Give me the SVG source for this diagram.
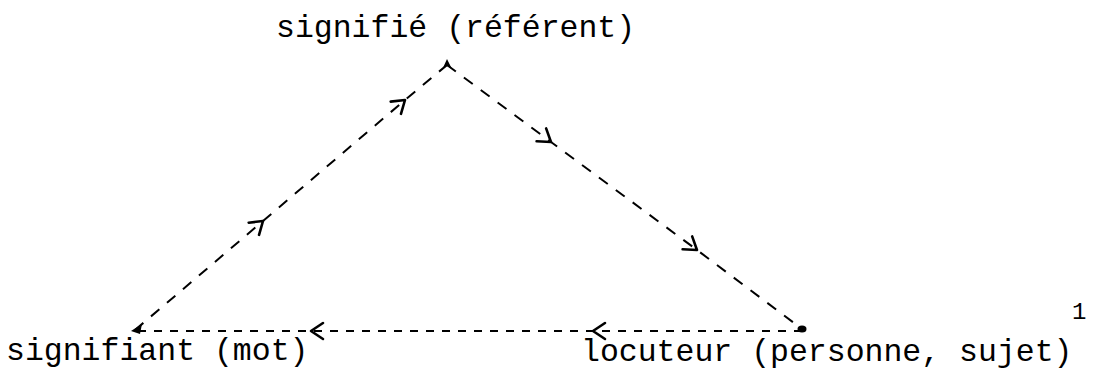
<svg xmlns="http://www.w3.org/2000/svg" width="1095" height="370" viewBox="0 0 1095 370">
<style>
  .lbl { font-family: "Liberation Mono", "Courier New", monospace; font-size: 31.5px; fill: #000; }
  .sup { font-size: 24px; }
  .edge { fill: none; stroke: #000; stroke-width: 2; stroke-dasharray: 11 10; marker-mid: url(#chev); }
  .edge.h { stroke-dasharray: 8 8; }
  .dot { fill: #000; }
</style>
<defs>
  <marker id="chev" markerUnits="userSpaceOnUse" orient="auto" markerWidth="30" markerHeight="30" viewBox="-15 -15 30 30" refX="0" refY="0" overflow="visible">
    <path d="M-12,-8 L0,0 L-12,8" fill="none" stroke="#000" stroke-width="2.6" stroke-linecap="round" stroke-linejoin="round"/>
  </marker>
</defs>
<rect width="1095" height="370" fill="#fff"/>
<g id="connectors">
  <polyline class="edge" points="135,330 263,221 405,100 447,65"/>
  <polyline class="edge" points="447,65 551,142 697,250 802,329"/>
  <polyline class="edge h" points="802,331 593,331 311,331 135,331"/>
</g>
<g id="node-signifie">
  <path class="dot" d="M447,59 L452,69 L447,66 L442,70 Z"/>
  <text class="lbl" x="276" y="37">signifié (référent)</text>
</g>
<g id="node-signifiant">
  <path class="dot" d="M131,331 L142,324 L140,334 Z"/>
  <text class="lbl" x="6" y="360">signifiant (mot)</text>
</g>
<g id="node-locuteur">
  <ellipse class="dot" cx="802" cy="329" rx="4.5" ry="3.5"/>
  <text class="lbl" x="581" y="361">locuteur (personne, sujet)</text>
  <text class="lbl sup" x="1072" y="319">1</text>
</g>
</svg>
